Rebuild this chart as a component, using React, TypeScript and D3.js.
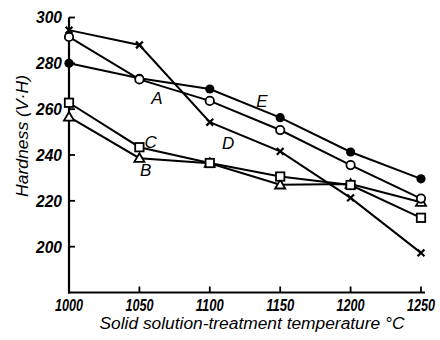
import React from "react";
import * as d3 from "d3";

const temps = [1000, 1050, 1100, 1150, 1200, 1250];
const seriesE = [280, 273.5, 268.8, 256.3, 241.3, 229.6]; // filled circles
const seriesA = [291.5, 273, 263.6, 250.9, 235.6, 221]; // open circles
const seriesD = [294.5, 288, 254.3, 241.6, 221.3, 197.3]; // crosses
const seriesC = [262.8, 243.4, 236.5, 230.6, 226.9, 212.6]; // squares
const seriesB = [256.6, 238.6, 236.4, 227, 227.3, 219.4]; // triangles
const yTicks = [200, 220, 240, 260, 280, 300];
const xTicks = [1000, 1050, 1100, 1150, 1200, 1250];
const curveLabels = ["A", "B", "C", "D", "E"];
const labelX = [1062.5, 1054.5, 1058, 1113, 1137];
const labelY = [265, 233.5, 245.5, 245, 263.5];

const W = 440;
const H = 340;
const FONT = "'Liberation Sans', 'DejaVu Sans', sans-serif";

export default function App() {
  const x = d3.scaleLinear().domain([1000, 1250]).range([69, 421]);
  const y = d3.scaleLinear().domain([180, 300]).range([292.5, 17.5]);
  const line = d3
    .line<number>()
    .x((_, i) => x(temps[i]))
    .y((v) => y(v));

  const series = [
    { vals: seriesE, mark: "fcircle" },
    { vals: seriesD, mark: "cross" },
    { vals: seriesB, mark: "tri" },
    { vals: seriesC, mark: "square" },
    { vals: seriesA, mark: "ocircle" },
  ];

  const marker = (m: string, cx: number, cy: number, key: string) => {
    const sw = 1.8;
    if (m === "fcircle") return <circle key={key} cx={cx} cy={cy} r={4.6} fill="#000" />;
    if (m === "ocircle")
      return <circle key={key} cx={cx} cy={cy} r={4.2} fill="#fff" stroke="#000" strokeWidth={sw} />;
    if (m === "square")
      return (
        <rect key={key} x={cx - 4.2} y={cy - 4.2} width={8.4} height={8.4} fill="#fff" stroke="#000" strokeWidth={sw} />
      );
    if (m === "tri") {
      const p = d3.symbol(d3.symbolTriangle, 44)();
      return (
        <path key={key} d={p as string} transform={`translate(${cx},${cy + 0.8})`} fill="#fff" stroke="#000" strokeWidth={sw} />
      );
    }
    const s = 3.4;
    return (
      <path
        key={key}
        d={`M${cx - s},${cy - s}L${cx + s},${cy + s}M${cx - s},${cy + s}L${cx + s},${cy - s}`}
        stroke="#000"
        strokeWidth={2.2}
      />
    );
  };

  return (
    <svg width={W} height={H} style={{ position: "absolute", left: 0, top: 0, background: "#fff" }}>
      <rect width={W} height={H} fill="#fff" />
      {/* axes */}
      <line x1={69} x2={69} y1={y(300)} y2={y(180) + 1} stroke="#000" strokeWidth={2.2} />
      <line x1={68} x2={425} y1={y(180)} y2={y(180)} stroke="#000" strokeWidth={2.2} />
      {yTicks.map((t) => (
        <g key={"y" + t}>
          <line x1={69} x2={75} y1={y(t)} y2={y(t)} stroke="#000" strokeWidth={1.8} />
          <text
            x={62}
            y={y(t)}
            dy="0.35em"
            textAnchor="end"
            fontFamily={FONT}
            fontStyle="italic"
            fontWeight="bold"
            fontSize={17}
            textLength={26}
            lengthAdjust="spacingAndGlyphs"
          >
            {t}
          </text>
        </g>
      ))}
      {xTicks.map((t) => (
        <g key={"x" + t}>
          <line x1={x(t)} x2={x(t)} y1={y(180)} y2={y(180) - 6} stroke="#000" strokeWidth={1.8} />
          <text
            x={x(t)}
            y={305}
            dy="0.35em"
            textAnchor="middle"
            fontFamily={FONT}
            fontStyle="italic"
            fontWeight="bold"
            fontSize={16}
            textLength={28}
            lengthAdjust="spacingAndGlyphs"
          >
            {t}
          </text>
        </g>
      ))}
      <text
        x={252}
        y={329}
        textAnchor="middle"
        fontFamily={FONT}
        fontStyle="italic"
        fontSize={16}
        textLength={305}
        lengthAdjust="spacingAndGlyphs"
      >
        Solid solution-treatment temperature °C
      </text>
      <text
        transform="translate(28,136) rotate(-90)"
        textAnchor="middle"
        fontFamily={FONT}
        fontStyle="italic"
        fontSize={16.5}
        textLength={122}
        lengthAdjust="spacingAndGlyphs"
      >
        Hardness (V·H)
      </text>
      {/* lines */}
      {series.map((s, i) => (
        <path key={"l" + i} d={line(s.vals) as string} fill="none" stroke="#000" strokeWidth={2} />
      ))}
      {series.map((s, i) => s.vals.map((v, j) => marker(s.mark, x(temps[j]), y(v), `m${i}-${j}`)))}
      {curveLabels.map((l, i) => (
        <text
          key={"c" + l}
          x={x(labelX[i])}
          y={y(labelY[i])}
          dy="0.35em"
          textAnchor="middle"
          fontFamily={FONT}
          fontStyle="italic"
          fontSize={17}
        >
          {l}
        </text>
      ))}
    </svg>
  );
}
